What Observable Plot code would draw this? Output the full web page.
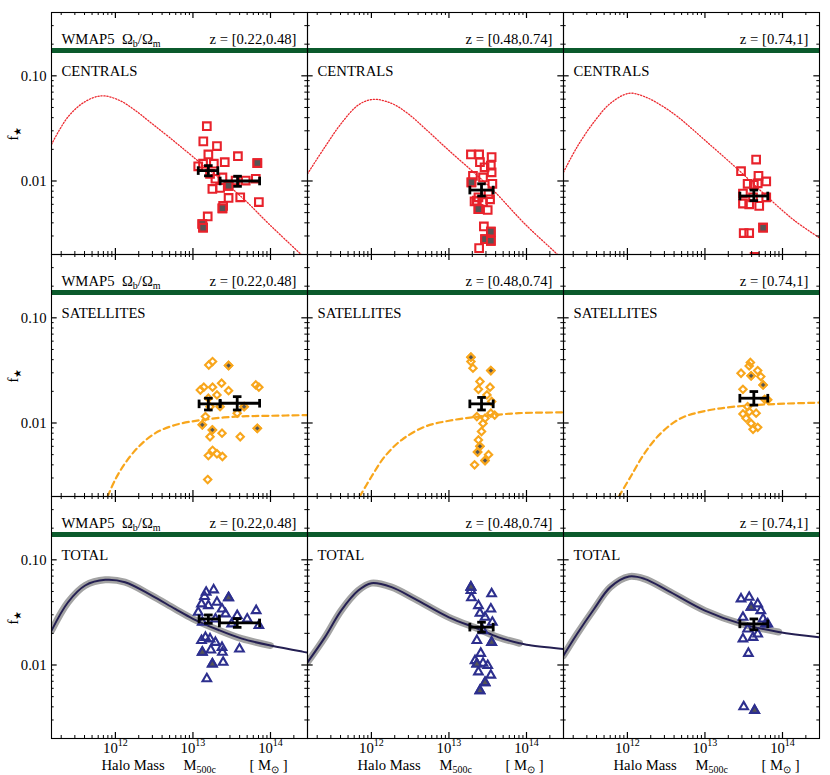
<!DOCTYPE html>
<html><head><meta charset="utf-8">
<script src="https://cdn.jsdelivr.net/npm/d3@7"></script>
<script src="https://cdn.jsdelivr.net/npm/@observablehq/plot@0.6"></script>
<style>
body{margin:0;background:#fff;}
#chart{width:830px;height:775px;}
#chart svg, #chart svg text, #chart svg tspan{font-family:"Liberation Serif","Times New Roman",serif !important;}
</style>
</head><body><div id="chart"></div><script>
// ---------- labels / categories ----------
const zBins = ["z = [0.22,0.48]", "z = [0.48,0.74]", "z = [0.74,1]"];
const kinds = ["CENTRALS", "SATELLITES", "TOTAL"];
const fbWMAP5 = 0.174;
const fbLabel = "WMAP5\u00A0\u00A0Ω_{b}/Ω_{m}";
const xTicks = [1e12, 1e13, 1e14];
const xTickLabels = ["10^{12}", "10^{13}", "10^{14}"];
const yTicks = [0.01, 0.1];
const yTickLabels = ["0.01", "0.10"];
const xTitleParts = ["Halo Mass", "M_{500c}", "[\u00A0M_{⊙}\u00A0]"];
const yTitle = "f_{★}";
const xDomain = [1.5e11, 3e14];
const yDomain = [0.002, 0.4];

// ---------- groups: [M500c / 1e13 Msun, f*, flag] ----------
const cenZ1 = [[1.51,0.0332,0],[1.36,0.0238,0],[2.04,0.0215,0],[1.58,0.0179,0],[3.80,0.0172,0],[2.57,0.0151,0],[6.76,0.0148,1],[1.17,0.0138,0],[1.35,0.0146,0],[1.86,0.0146,0],[1.66,0.0117,0],[1.95,0.0105,0],[2.40,0.0108,0],[3.55,0.0101,0],[4.79,0.0101,0],[6.46,0.0105,0],[2.88,0.0090,1],[1.78,0.0084,0],[2.24,0.0086,0],[4.07,0.0070,0],[2.88,0.0069,0],[2.45,0.0058,0],[2.40,0.0055,1],[7.08,0.0063,0],[1.55,0.0046,0],[1.32,0.0039,1],[1.35,0.0036,1]];
const cenZ2 = [[1.92,0.0179,0],[2.45,0.0179,0],[3.55,0.0169,0],[2.51,0.0151,0],[3.47,0.0140,0],[2.88,0.0135,0],[3.55,0.0121,0],[2.04,0.0112,0],[2.75,0.0108,0],[1.95,0.0097,1],[3.63,0.0094,0],[2.40,0.0070,0],[2.14,0.0064,0],[2.75,0.0063,0],[3.39,0.0067,0],[2.40,0.0054,1],[3.16,0.0053,0],[2.82,0.0037,0],[3.47,0.0033,1],[2.92,0.0028,1],[3.47,0.0027,1],[2.45,0.0023,0],[2.29,0.0065,0],[3.24,0.0075,0]];
const cenZ3 = [[4.57,0.0160,0],[2.92,0.0124,0],[4.90,0.0112,0],[6.17,0.0099,0],[3.55,0.0094,0],[4.27,0.0092,0],[4.79,0.0095,0],[3.09,0.0076,0],[6.17,0.0070,0],[3.09,0.0061,0],[3.72,0.0060,0],[5.01,0.0058,0],[5.62,0.0036,1],[3.16,0.0032,0],[3.72,0.0032,0],[4.37,0.0019,0],[4.17,0.0070,0]];
const satZ1 = [[1.60,0.0356,0],[1.79,0.0384,0],[2.88,0.0352,1],[1.245,0.0206,0],[1.38,0.0219,0],[1.79,0.0219,0],[2.34,0.0239,0],[2.88,0.0203,0],[2.04,0.0185,0],[6.46,0.0230,0],[7.08,0.0219,0],[1.58,0.0172,0],[2.24,0.0143,0],[4.57,0.0143,1],[3.72,0.0124,0],[1.45,0.0115,0],[1.32,0.0096,1],[1.78,0.0086,1],[2.37,0.0080,0],[1.66,0.0074,0],[4.07,0.0074,0],[6.76,0.0089,1],[1.79,0.0055,0],[1.58,0.0049,0],[2.04,0.0051,0],[2.40,0.0048,0],[1.55,0.0029,0],[1.66,0.0143,0]];
const satZ2 = [[1.92,0.0422,1],[1.92,0.0384,0],[2.04,0.0332,0],[3.47,0.0315,1],[2.51,0.0248,0],[3.39,0.0219,0],[2.40,0.0209,0],[3.09,0.0185,0],[3.55,0.0160,0],[2.29,0.0115,0],[3.47,0.0124,0],[2.92,0.0111,0],[2.75,0.0099,0],[2.63,0.0083,0],[2.40,0.0069,0],[2.51,0.0060,1],[2.34,0.0053,1],[3.24,0.0050,0],[2.92,0.0044,1],[2.14,0.0040,0],[3.89,0.0119,0]];
const satZ3 = [[3.85,0.0376,0],[3.72,0.0349,0],[2.92,0.0297,0],[4.79,0.0315,0],[3.94,0.0281,1],[5.25,0.0276,0],[5.62,0.0230,1],[3.09,0.0209,0],[5.89,0.0168,0],[6.46,0.0166,0],[3.09,0.0122,0],[3.72,0.0128,0],[4.57,0.0124,0],[3.39,0.0111,0],[3.94,0.0099,0],[4.79,0.0091,0],[4.17,0.0087,0],[3.55,0.0143,0]];
const totZ1 = [[1.85,0.0518,0],[1.48,0.0492,0],[1.41,0.0448,0],[2.88,0.0435,1],[2.04,0.0395,0],[1.29,0.0381,0],[1.58,0.0367,0],[2.37,0.0341,0],[6.53,0.0329,0],[1.17,0.0317,0],[2.63,0.0306,0],[3.72,0.0295,0],[1.95,0.0274,0],[5.01,0.0274,0],[1.32,0.0255,0],[7.08,0.0237,0],[3.16,0.0246,0],[1.45,0.0183,0],[1.29,0.0171,0],[1.66,0.0177,0],[1.95,0.0164,0],[2.37,0.0147,0],[1.70,0.0139,0],[3.98,0.0142,0],[1.32,0.0132,1],[2.40,0.0132,0],[1.78,0.0102,1],[2.45,0.0106,0],[1.51,0.0074,0]];
const totZ2 = [[1.92,0.055,1],[1.92,0.051,0],[1.95,0.0435,0],[3.55,0.0475,0],[2.40,0.0367,0],[3.47,0.0341,0],[2.51,0.031,0],[2.92,0.0284,0],[3.63,0.0255,0],[2.75,0.0212,0],[2.29,0.0171,0],[3.55,0.0164,1],[2.57,0.0129,0],[2.29,0.0102,1],[2.75,0.0104,0],[3.16,0.0099,0],[2.40,0.0086,0],[3.47,0.0080,0],[2.92,0.0068,1],[2.51,0.0057,1],[2.17,0.011,0]];
const totZ3 = [[2.92,0.0425,0],[3.72,0.0441,0],[3.94,0.0354,1],[4.79,0.0381,0],[5.25,0.0329,0],[3.09,0.0284,0],[5.62,0.0274,0],[6.03,0.0246,0],[3.55,0.0220,0],[4.79,0.0197,0],[3.09,0.0177,0],[4.17,0.0183,0],[3.63,0.0129,0],[3.16,0.0040,0],[4.37,0.0037,1],[6.46,0.0246,0]];

// ---------- binned means: [M, Mlo, Mhi (1e13 Msun), f, flo, fhi] ----------
const binCenZ1 = [[1.58,1.17,2.09,0.01256,0.0112,0.0140],[3.76,2.24,7.24,0.0100,0.0089,0.0111]];
const binCenZ2 = [[2.63,1.86,3.72,0.0082,0.0072,0.0094]];
const binCenZ3 = [[4.27,2.82,6.46,0.0072,0.0065,0.0082]];
const binSatZ1 = [[1.58,1.20,2.24,0.0152,0.0133,0.0172],[3.72,2.24,7.24,0.0154,0.0133,0.0178]];
const binSatZ2 = [[2.63,1.86,3.72,0.0152,0.0133,0.0175]];
const binSatZ3 = [[4.27,2.82,6.46,0.0172,0.0148,0.0199]];
const binTotZ1 = [[1.58,1.20,2.19,0.0274,0.0249,0.0299],[3.72,2.19,7.24,0.0251,0.0228,0.0276]];
const binTotZ2 = [[2.63,1.86,3.72,0.0229,0.0205,0.0255]];
const binTotZ3 = [[4.27,2.82,6.46,0.0246,0.0216,0.0274]];

// ---------- model curves: [M (Msun), f*] ----------
const curveCenZ1 = [[1.5e11,0.0223],[2.45e11,0.0407],[4.07e11,0.0568],[6.61e11,0.0645],[1.10e12,0.0589],[1.78e12,0.0472],[2.95e12,0.0352],[4.9e12,0.0262],[1e13,0.0170],[4.27e13,0.0070],[9.55e13,0.0039],[2.24e14,0.00215],[3.16e14,0.0017]];
const curveCenZ2 = [[1.5e11,0.0117],[2.51e11,0.0210],[4.07e11,0.0351],[6.76e11,0.0527],[1.05e12,0.0597],[1.82e12,0.0547],[2.95e12,0.0438],[4.9e12,0.0316],[1e13,0.0195],[2.19e13,0.0117],[3.89e13,0.0079],[9.55e13,0.0039],[2.34e14,0.0021],[3.16e14,0.0017]];
const curveCenZ3 = [[1.5e11,0.0121],[2.24e11,0.021],[3.72e11,0.0365],[6.03e11,0.0547],[1.05e12,0.0682],[1.66e12,0.0634],[2.69e12,0.0527],[4.47e12,0.0407],[1e13,0.0244],[2.63e13,0.0130],[6.46e13,0.0070],[1.43e14,0.0042],[3.09e14,0.00284]];
const curveSatZ1 = [[7.94e11,0.0020],[9.9e11,0.00287],[1.33e12,0.00413],[2.0e12,0.00596],[3.24e12,0.00797],[5.89e12,0.00957],[1.32e13,0.0107],[3.55e13,0.0115],[9.55e13,0.0117],[3.16e14,0.0119]];
const curveSatZ2 = [[7.08e11,0.0020],[1e12,0.00308],[1.48e12,0.00478],[2.45e12,0.00689],[4.9e12,0.00923],[1e13,0.0105],[2.4e13,0.0115],[7.94e13,0.0124],[3.0e14,0.0126]];
const curveSatZ3 = [[7.76e11,0.0020],[1.10e12,0.00308],[1.66e12,0.00514],[2.69e12,0.00797],[4.9e12,0.0111],[1e13,0.0130],[2.4e13,0.0143],[8.71e13,0.0152],[3.09e14,0.0156]];
const curveTotZ1 = [[1.5e11,0.0212],[2.45e11,0.0395],[4.07e11,0.057],[7.41e11,0.0645],[1.33e12,0.0613],[2.95e12,0.0457],[5.89e12,0.0341],[1e13,0.0275],[2.14e13,0.0215],[4.27e13,0.0178],[1e14,0.0153],[2.57e14,0.0134],[3.09e14,0.0131]];
const curveTotZ2 = [[1.5e11,0.0106],[2.51e11,0.0183],[4.07e11,0.0329],[6.76e11,0.051],[1e12,0.060],[1.82e12,0.055],[3.63e12,0.0425],[1e13,0.0284],[2.4e13,0.022],[4.37e13,0.0183],[8.13e13,0.0161],[1e14,0.0156],[3.0e14,0.0142]];
const curveTotZ3 = [[1.5e11,0.0123],[2.24e11,0.0197],[3.72e11,0.0341],[6.03e11,0.055],[1.05e12,0.0693],[1.66e12,0.0659],[3.31e12,0.051],[1e13,0.0329],[2.95e13,0.0246],[8.91e13,0.0206],[3.09e14,0.0183]];
const bandEnd = [1e14, 8.13e13, 8.91e13];

// ---------- tidy tables ----------
const pointSets = {CENTRALS: [cenZ1, cenZ2, cenZ3], SATELLITES: [satZ1, satZ2, satZ3], TOTAL: [totZ1, totZ2, totZ3]};
const binSets = {CENTRALS: [binCenZ1, binCenZ2, binCenZ3], SATELLITES: [binSatZ1, binSatZ2, binSatZ3], TOTAL: [binTotZ1, binTotZ2, binTotZ3]};
const curveSets = {CENTRALS: [curveCenZ1, curveCenZ2, curveCenZ3], SATELLITES: [curveSatZ1, curveSatZ2, curveSatZ3], TOTAL: [curveTotZ1, curveTotZ2, curveTotZ3]};
const U = 1e13;
const points = [], bins = [], curves = [], cells = [];
kinds.forEach(k => zBins.forEach((z, i) => {
  cells.push({kind: k, z});
  pointSets[k][i].forEach(([m, f, flag]) => points.push({kind: k, z, M: m * U, f, flag}));
  binSets[k][i].forEach(([m, mlo, mhi, f, flo, fhi]) => bins.push({kind: k, z, M: m * U, Mlo: mlo * U, Mhi: mhi * U, f, flo, fhi}));
  curveSets[k][i].forEach(([m, f]) => curves.push({kind: k, z, M: m, f, band: m <= bandEnd[i] * 1.0001}));
}));
const capsH = bins.flatMap(b => [{...b, y: b.flo}, {...b, y: b.fhi}]);
const capsV = bins.flatMap(b => [{...b, x: b.Mlo}, {...b, x: b.Mhi}]);

const style = {
  CENTRALS: {symbol: "square", stroke: "#e8222b", r: 4.3},
  SATELLITES: {symbol: "diamond2", stroke: "#f8a61c", r: 3.3},
  TOTAL: {symbol: "triangle2", stroke: "#2d2f8e", r: 4.1}
};

// ---------- layout ----------
const W = 830, H = 775, mL = 50, mR = 11, mT = 12, mB = 37;
const facetW = (W - mL - mR) / 3, facetH = (H - mT - mB) / 3;
const isMajor = v => Math.abs(Math.log10(v) - Math.round(Math.log10(v))) < 1e-6;
const xAll = d3.scaleLog().domain(xDomain).ticks();
const yAll = d3.scaleLog().domain(yDomain).ticks();
const xMinor = xAll.filter(v => !isMajor(v)), xMajor = xAll.filter(isMajor);
const yMinor = yAll.filter(v => !isMajor(v)), yMajor = yAll.filter(isMajor);
const majL = 6, minL = 3;
const serif = "'Liberation Serif', 'Times New Roman', serif";

const hLine = {draw(ctx, size) { const r = Math.sqrt(size / Math.PI); ctx.moveTo(-r, 0); ctx.lineTo(r, 0); }};
const vLine = {draw(ctx, size) { const r = Math.sqrt(size / Math.PI); ctx.moveTo(0, -r); ctx.lineTo(0, r); }};

const yTickText = kinds.flatMap(k => yTicks.map((v, i) => ({kind: k, v, label: yTickLabels[i]})));
const xTickText = zBins.flatMap(z => xTicks.map((v, i) => ({z, v, label: xTickLabels[i]})));
const xTitleDx = [50, 132, 198];
const T = {fill: "black", fontFamily: serif, fontSize: 14.7};

const marks = [
  // gray uncertainty band + model curves
  Plot.line(curves.filter(d => d.kind === "TOTAL" && d.band), {x: "M", y: "f", fx: "z", fy: "kind", stroke: "#a3a3a3", strokeWidth: 7, curve: "catmull-rom", clip: true}),
  Plot.line(curves.filter(d => d.kind === "TOTAL"), {x: "M", y: "f", fx: "z", fy: "kind", stroke: "#241f52", strokeWidth: 2, curve: "catmull-rom", clip: true}),
  Plot.line(curves.filter(d => d.kind === "CENTRALS"), {x: "M", y: "f", fx: "z", fy: "kind", stroke: "#ec2a30", strokeWidth: 1.3, strokeDasharray: "1.2 1.8", curve: "catmull-rom", clip: true}),
  Plot.line(curves.filter(d => d.kind === "SATELLITES"), {x: "M", y: "f", fx: "z", fy: "kind", stroke: "#f8a61c", strokeWidth: 2.2, strokeDasharray: "6 4", curve: "catmull-rom", clip: true}),
  // WMAP5 baryon fraction
  Plot.ruleY([fbWMAP5], {stroke: "#0b5a2c", strokeWidth: 5}),
  // data points
  ...kinds.flatMap(k => [
    Plot.dot(points.filter(d => d.kind === k), {x: "M", y: "f", fx: "z", fy: "kind", symbol: style[k].symbol, r: style[k].r, stroke: style[k].stroke, strokeWidth: 2.1, fill: "none", clip: true}),
    Plot.dot(points.filter(d => d.kind === k && d.flag), {x: "M", y: "f", fx: "z", fy: "kind", symbol: style[k].symbol, r: style[k].r, stroke: style[k].stroke, strokeWidth: 2.1, fill: "#555555", clip: true})
  ]),
  // binned means with error bars
  Plot.ruleY(bins, {y: "f", x1: "Mlo", x2: "Mhi", fx: "z", fy: "kind", stroke: "black", strokeWidth: 2.8}),
  Plot.ruleX(bins, {x: "M", y1: "flo", y2: "fhi", fx: "z", fy: "kind", stroke: "black", strokeWidth: 2.8}),
  Plot.dot(capsH, {x: "M", y: "y", fx: "z", fy: "kind", symbol: hLine, r: 4.3, stroke: "black", strokeWidth: 2.8}),
  Plot.dot(capsV, {x: "x", y: "f", fx: "z", fy: "kind", symbol: vLine, r: 4.3, stroke: "black", strokeWidth: 2.8}),
  // frame and inward ticks on all sides
  Plot.frame({stroke: "black", strokeWidth: 1.1}),
  Plot.tickX(xMinor, {x: d => d, insetTop: facetH - minL, stroke: "black"}),
  Plot.tickX(xMinor, {x: d => d, insetBottom: facetH - minL, stroke: "black"}),
  Plot.tickX(xMajor, {x: d => d, insetTop: facetH - majL, stroke: "black", strokeWidth: 1.2}),
  Plot.tickX(xMajor, {x: d => d, insetBottom: facetH - majL, stroke: "black", strokeWidth: 1.2}),
  Plot.tickY(yMinor, {y: d => d, insetRight: facetW - minL, stroke: "black"}),
  Plot.tickY(yMinor, {y: d => d, insetLeft: facetW - minL, stroke: "black"}),
  Plot.tickY(yMajor, {y: d => d, insetRight: facetW - majL, stroke: "black", strokeWidth: 1.2}),
  Plot.tickY(yMajor, {y: d => d, insetLeft: facetW - majL, stroke: "black", strokeWidth: 1.2}),
  // in-panel labels
  Plot.text(kinds, {...T, fy: d => d, fx: () => zBins[0], text: () => fbLabel, frameAnchor: "top-left", dx: 10, dy: 31, lineAnchor: "bottom", textAnchor: "start"}),
  Plot.text(cells, {...T, fx: "z", fy: "kind", text: "z", frameAnchor: "top-right", dx: -11, dy: 31, lineAnchor: "bottom", textAnchor: "end"}),
  Plot.text(cells, {...T, fx: "z", fy: "kind", text: "kind", frameAnchor: "top-left", dx: 10, dy: 63, lineAnchor: "bottom", textAnchor: "start"}),
  // axis tick labels
  Plot.text(yTickText, {...T, fx: () => zBins[0], fy: "kind", y: "v", text: "label", frameAnchor: "left", dx: -5, textAnchor: "end", lineAnchor: "middle"}),
  Plot.text(xTickText, {...T, fx: "z", fy: () => kinds[2], x: "v", text: "label", frameAnchor: "bottom", dy: 14, lineAnchor: "bottom", textAnchor: "middle"}),
  // axis titles
  ...xTitleParts.map((t, i) => Plot.text(zBins, {...T, fx: d => d, fy: () => kinds[2], text: () => t, frameAnchor: "bottom-left", dx: xTitleDx[i], dy: 31, lineAnchor: "bottom", textAnchor: "start"})),
  Plot.text(kinds, {...T, fy: d => d, fx: () => zBins[0], text: () => yTitle, frameAnchor: "left", dx: -38, rotate: -90, textAnchor: "middle", lineAnchor: "middle"})
];

const chart = Plot.plot({
  width: W, height: H,
  marginLeft: mL, marginRight: mR, marginTop: mT, marginBottom: mB,
  style: {fontFamily: serif, fontSize: "14.7px", background: "white", color: "black", overflow: "visible"},
  fx: {domain: zBins, padding: 0, axis: null},
  fy: {domain: kinds, padding: 0, axis: null},
  x: {type: "log", domain: xDomain, axis: null},
  y: {type: "log", domain: yDomain, axis: null},
  marks
});
document.getElementById("chart").appendChild(chart);

// sub/superscripts: "_{...}" and "^{...}"
function richify(root) {
  root.querySelectorAll("text").forEach(t => {
    const s = t.textContent;
    if (!/[_^]\{/.test(s)) return;
    const fs = parseFloat(getComputedStyle(t).fontSize) || 14;
    while (t.firstChild) t.removeChild(t.firstChild);
    const re = /([_^])\{([^}]*)\}/g;
    let last = 0, m, shift = 0;
    const add = (txt, kind) => {
      const ts = document.createElementNS("http://www.w3.org/2000/svg", "tspan");
      ts.textContent = txt;
      const target = kind === "_" ? 0.22 * fs : kind === "^" ? -0.42 * fs : 0;
      const dy = target - shift;
      if (dy) ts.setAttribute("dy", dy);
      shift = target;
      if (kind) ts.setAttribute("font-size", 0.68 * fs);
      t.appendChild(ts);
    };
    while ((m = re.exec(s))) {
      if (m.index > last) add(s.slice(last, m.index), null);
      add(m[2], m[1]);
      last = re.lastIndex;
    }
    if (last < s.length) add(s.slice(last), null);
  });
}
richify(chart);
</script></body></html>
